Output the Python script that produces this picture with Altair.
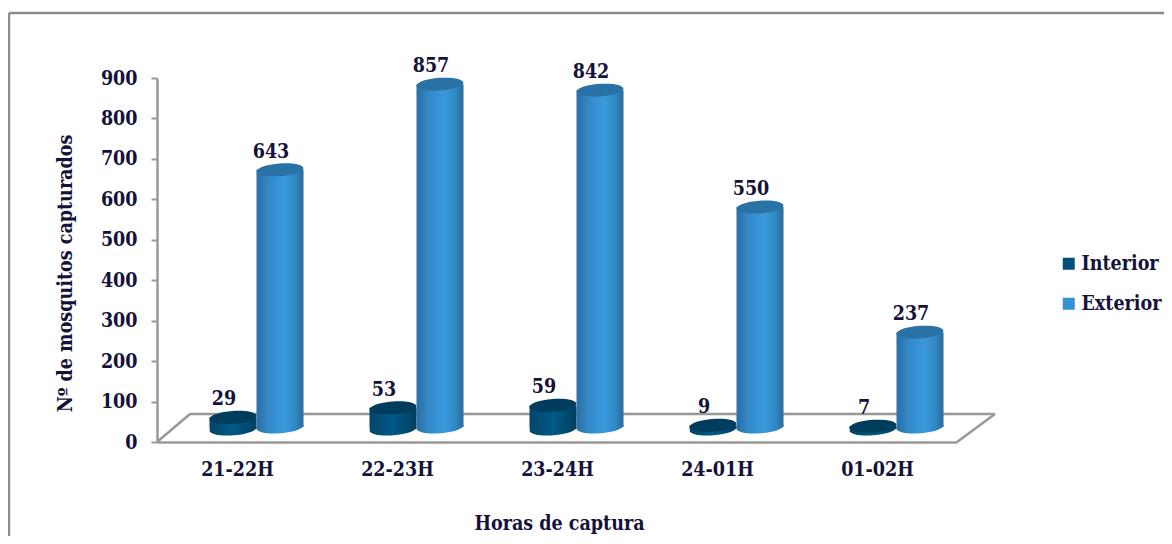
import math
import altair as alt
import pandas as pd

categories = ["21-22H", "22-23H", "23-24H", "24-01H", "01-02H"]
interior = [29, 53, 59, 9, 7]
exterior = [643, 857, 842, 550, 237]
y_ticks = [0, 100, 200, 300, 400, 500, 600, 700, 800, 900]

FONT = "DejaVu Serif Condensed, Liberation Serif, serif"
INK = "#14123a"
GREY = "#999999"
FS = 19.5


def ellipse(ratio=0.27, tilt=-4):
    k = 0.5523
    pts = [(1, 0), (1, k * ratio), (k, ratio), (0, ratio), (-k, ratio), (-1, k * ratio),
           (-1, 0), (-1, -k * ratio), (-k, -ratio), (0, -ratio), (k, -ratio), (1, -k * ratio), (1, 0)]
    c, s = math.cos(math.radians(tilt)), math.sin(math.radians(tilt))
    r = [(x * c - y * s, x * s + y * c) for x, y in pts]
    d = f"M{r[0][0]:.4f},{r[0][1]:.4f}"
    for i in range(1, 13, 3):
        d += " C" + " ".join(f"{p[0]:.4f},{p[1]:.4f}" for p in r[i:i + 3])
    return d + " Z"


def grad(stops):
    return alt.Gradient(gradient="linear", x1=0, y1=0, x2=1, y2=0,
                        stops=[alt.GradientStop(offset=o, color=c) for o, c in stops])


df = pd.DataFrame({"cat": categories, "Interior": interior, "Exterior": exterior})
long = df.melt("cat", var_name="serie", value_name="v")

SHAPE = ellipse()
SIZE = 47 ** 2


def rule(x, x2, y, y2, w=2.0, color=GREY):
    return alt.Chart(pd.DataFrame({"a": [0]})).mark_rule(color=color, strokeWidth=w).encode(
        x=alt.value(x), x2=alt.value(x2), y=alt.value(y), y2=alt.value(y2))


frame = [rule(-148, 1007, -65, -65, 2.5, "#8c8c8c"), rule(-148, -148, -65, 458, 2.5, "#8c8c8c")]
floor = [rule(0, 33, 364, 336, 2.5), rule(33, 838, 336, 336, 2.5), rule(800, 838, 364, 336, 2.5)]

axes = alt.Chart(df).mark_point(opacity=0).encode(
    x=alt.X("cat:N", sort=categories, scale=alt.Scale(domain=categories, range=[0, 800]),
            axis=alt.Axis(title="Horas de captura", labelAngle=0, ticks=False, labelPadding=18,
                          titleX=402, titleY=81, titleBaseline="middle",
                          domainColor=GREY, domainWidth=2.5)),
    y=alt.Y("Exterior:Q", scale=alt.Scale(domain=[0, 900], nice=False),
            axis=alt.Axis(title="Nº de mosquitos capturados", values=y_ticks, tickSize=6, tickWidth=2,
                          tickColor=GREY, domainColor=GREY, domainWidth=2.5, grid=False, labelPadding=14,
                          titleX=-92, titleY=195, titleAngle=270, titleAlign="center",
                          titleBaseline="middle")),
)

legend = alt.Chart(long).mark_bar().encode(
    x=alt.X("cat:N", sort=categories, axis=None),
    y=alt.value(0), y2=alt.value(0),
    color=alt.Color("serie:N", sort=["Interior", "Exterior"],
                    scale=alt.Scale(domain=["Interior", "Exterior"], range=["#00507a", "#3592d2"]),
                    legend=alt.Legend(title=None, orient="none", legendX=902,
                                      legendY=176, symbolType="square", symbolSize=144,
                                      symbolStrokeWidth=0, rowPadding=19, labelOffset=3)),
)


def cylinder(field, x_start, base_px, side, top):
    scale_y = alt.Scale(domain=[0, 900], range=[base_px, base_px - 360], nice=False)
    xs = alt.X("cat:N", sort=categories,
               scale=alt.Scale(domain=categories, range=[x_start, x_start + 800]), axis=None)
    y = alt.Y(f"{field}:Q", scale=scale_y, axis=None)
    base = alt.Chart(df).mark_point(filled=True, shape=SHAPE, size=SIZE, opacity=1, fill=side, strokeWidth=0).encode(
        x=xs, y=alt.Y("zero:Q", scale=scale_y, axis=None)).transform_calculate(zero="0")
    body = alt.Chart(df).mark_bar(size=47, fill=side, strokeWidth=0).encode(
        x=xs, y=y, y2=alt.Y2(datum=0))
    lid = alt.Chart(df).mark_point(filled=True, shape=SHAPE, size=SIZE, opacity=1, fill=top, strokeWidth=0).encode(
        x=xs, y=y)
    label = alt.Chart(df).mark_text(font=FONT, fontWeight="bold", fontSize=FS, color=INK, dx=-9, dy=-18,
                                    baseline="middle").encode(
        x=xs, y=y, text=f"{field}:Q")
    return [base, body, lid, label]


side_in = grad([(0, "#00466a"), (0.5, "#005a88"), (1, "#003e5e")])
side_ex = grad([(0, "#2a6fa3"), (0.25, "#3388c8"), (0.6, "#3a9ade"), (0.85, "#3184bd"), (1, "#2a6a98")])

chart = alt.layer(
    *frame, *floor, axes, legend,
    *cylinder("Interior", -4, 351, side_in, "#003c5c"),
    *cylinder("Exterior", 43, 349, side_ex, "#2a72a6"),
).resolve_scale(x="independent", y="independent").properties(
    width=800, height=364, autosize="none",
    padding={"left": 149, "top": 70, "right": 207, "bottom": 94},
).configure_view(stroke=None).configure_axis(
    labelFont=FONT, labelFontWeight="bold", labelFontSize=FS, labelColor=INK,
    titleFont=FONT, titleFontWeight="bold", titleFontSize=FS, titleColor=INK,
).configure_legend(labelFont=FONT, labelFontWeight="bold", labelFontSize=FS, labelColor=INK)

chart.save("out.html", embed_options={"renderer": "svg", "actions": False})
